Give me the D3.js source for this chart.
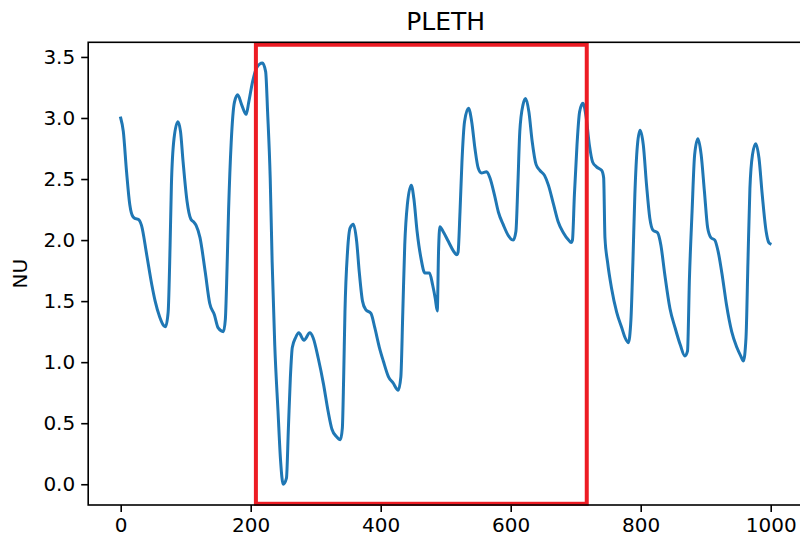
<!DOCTYPE html>
<html>
<head>
<meta charset="utf-8">
<script src="https://cdn.jsdelivr.net/npm/d3@7"></script>
<style>
  html, body { margin: 0; padding: 0; background: #fff; }
  svg { display: block; font-family: "DejaVu Sans", sans-serif; }
</style>
</head>
<body>
<svg id="chart" width="800" height="543"></svg>
<script>
// PLETH waveform samples (sample index, normalised units)
const sampleIndex = [0,4,9,14,19,23,27,32,40,48,53,60,66,69,73,76,78,82,88,92,96,102,108,112,116,122,130,137,144,150,158,161,163,166,170,175,180,186,193,197,203,209,218,223,226,230,233,237,242,246,250,255,258,261,264,269,274,282,291,296,304,312,319,325,332,338,341,343,345,349,353,358,363,367,372,377,385,391,398,404,412,419,427,431,434,437,441,447,451,456,462,468,475,480,484,487,489,491,496,504,512,517,519,522,525,529,535,540,545,550,555,563,568,575,581,589,596,604,608,611,614,619,623,628,633,639,645,652,658,666,673,681,689,693,695,698,702,706,711,716,721,726,732,740,743,745,749,755,763,771,776,781,785,788,791,795,799,804,809,814,819,826,831,837,845,853,861,868,872,875,879,883,888,893,898,903,908,914,919,926,932,940,948,954,958,962,965,968,972,977,982,987,993,997,999];
const plethNU = [3.00,2.89,2.56,2.29,2.19,2.175,2.17,2.12,1.88,1.63,1.50,1.37,1.30,1.29,1.41,1.96,2.45,2.83,2.97,2.89,2.64,2.32,2.17,2.15,2.12,2.02,1.74,1.48,1.39,1.28,1.25,1.35,1.65,2.25,2.80,3.13,3.19,3.11,3.03,3.13,3.30,3.41,3.45,3.38,3.05,2.51,1.82,1.14,0.60,0.19,0.00,0.05,0.46,0.87,1.12,1.20,1.24,1.18,1.24,1.20,1.03,0.82,0.60,0.45,0.39,0.365,0.46,0.87,1.41,1.91,2.10,2.13,1.99,1.74,1.50,1.43,1.40,1.28,1.12,1.01,0.88,0.83,0.77,0.88,1.41,1.96,2.29,2.45,2.34,2.07,1.85,1.73,1.73,1.63,1.52,1.42,1.91,2.11,2.07,1.99,1.91,1.88,1.90,2.23,2.64,2.97,3.08,2.97,2.75,2.59,2.55,2.56,2.51,2.37,2.23,2.12,2.04,2.00,2.07,2.45,2.89,3.11,3.16,3.05,2.81,2.62,2.57,2.53,2.45,2.29,2.15,2.06,2.00,1.98,2.00,2.37,2.78,3.05,3.12,3.01,2.78,2.64,2.60,2.57,2.51,2.02,1.82,1.61,1.41,1.28,1.20,1.16,1.35,1.82,2.37,2.78,2.90,2.78,2.45,2.18,2.08,2.06,1.96,1.72,1.44,1.28,1.14,1.05,1.09,1.69,2.23,2.70,2.83,2.70,2.40,2.10,2.02,2.00,1.91,1.69,1.47,1.25,1.12,1.05,1.01,1.20,1.82,2.42,2.70,2.79,2.67,2.37,2.07,1.98,1.97];

// Axis ticks
const xTicks = [0, 200, 400, 600, 800, 1000];
const yTicks = [0.0, 0.5, 1.0, 1.5, 2.0, 2.5, 3.0, 3.5];
const yTickLabels = ["0.0", "0.5", "1.0", "1.5", "2.0", "2.5", "3.0", "3.5"];

// Highlighted window: [x0, x1] in samples, [y0, y1] in NU
const windowX = [208, 717];
const windowY = [-0.16, 3.60];

const titleText = "PLETH";
const yLabelText = "NU";

const svg = d3.select("#chart");
const plot = { left: 88.2, right: 803.2, top: 42.3, bottom: 505 };

const x = d3.scaleLinear().domain([-50, 1050]).range([plot.left, plot.right]);
const y = d3.scaleLinear().domain([-0.17, 3.62]).range([plot.bottom, plot.top]);

const tickFont = 20;

// x axis
const xAxis = svg.append("g")
  .attr("transform", `translate(0,${plot.bottom})`)
  .call(d3.axisBottom(x).tickValues(xTicks).tickFormat(d3.format("d")).tickSize(7).tickPadding(6));
// y axis
const yAxis = svg.append("g")
  .attr("transform", `translate(${plot.left},0)`)
  .call(d3.axisLeft(y).tickValues(yTicks).tickFormat((d, i) => yTickLabels[i]).tickSize(7).tickPadding(6));

[xAxis, yAxis].forEach(g => {
  g.select(".domain").remove();
  g.selectAll(".tick line").attr("stroke", "#000").attr("stroke-width", 1.6);
  g.selectAll(".tick text")
    .attr("fill", "#000")
    .style("font-family", "'DejaVu Sans', sans-serif")
    .style("font-size", tickFont + "px");
});

// line
const line = d3.line()
  .x((d, i) => x(sampleIndex[i]))
  .y(d => y(d))
  .curve(d3.curveMonotoneX);

svg.append("path")
  .datum(plethNU)
  .attr("d", line)
  .attr("fill", "none")
  .attr("stroke", "#1f77b4")
  .attr("stroke-width", 3)
  .attr("stroke-linejoin", "round")
  .attr("stroke-linecap", "square");

// highlighted window
svg.append("rect")
  .attr("x", x(windowX[0]))
  .attr("y", y(windowY[1]))
  .attr("width", x(windowX[1]) - x(windowX[0]))
  .attr("height", y(windowY[0]) - y(windowY[1]))
  .attr("fill", "none")
  .attr("stroke", "#ed1c24")
  .attr("stroke-width", 4);

// spines
svg.append("rect")
  .attr("x", plot.left)
  .attr("y", plot.top)
  .attr("width", plot.right - plot.left)
  .attr("height", plot.bottom - plot.top)
  .attr("fill", "none")
  .attr("stroke", "#000")
  .attr("stroke-width", 1.6);

// title
svg.append("text")
  .attr("x", (plot.left + plot.right) / 2)
  .attr("y", plot.top - 12)
  .attr("text-anchor", "middle")
  .style("font-size", "25px")
  .attr("fill", "#000")
  .text(titleText);

// y label
svg.append("text")
  .attr("transform", `translate(27,${(plot.top + plot.bottom) / 2}) rotate(-90)`)
  .attr("text-anchor", "middle")
  .style("font-size", tickFont + "px")
  .attr("fill", "#000")
  .text(yLabelText);
</script>
</body>
</html>
